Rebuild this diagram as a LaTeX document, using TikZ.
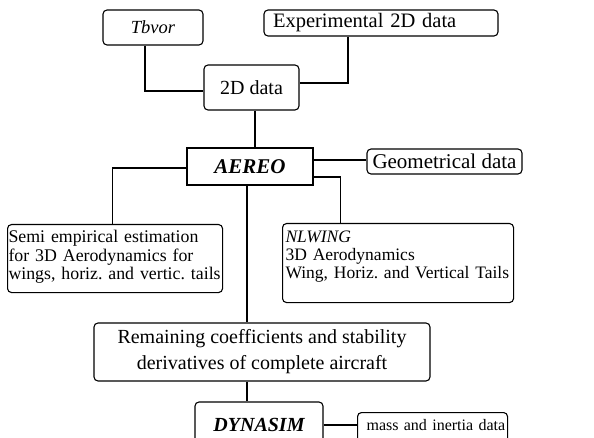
\documentclass[tikz,border=0pt]{standalone}
\usepackage{fontspec}
\setmainfont{Liberation Serif}
\frenchspacing
\usetikzlibrary{calc}
\begin{document}
\begin{tikzpicture}[x=1pt,y=-1pt,
  box/.style={draw, rounded corners=4pt, line width=1.1pt, inner sep=0pt},
  sqbox/.style={draw, line width=1.8pt, inner sep=0pt},
  link/.style={line width=1.1pt}]
\useasboundingbox (0,0) rectangle (594,438);
\clip (0,0) rectangle (594,438);
% boxes
\node[box, minimum width=100, minimum height=35, font=\fontsize{18.5}{21}\selectfont\itshape] (tb) at (153,27.5)
  {Tbvor};
\node[box, minimum height=26, inner xsep=9, text width=216, align=left, font=\fontsize{20.5}{23}\selectfont] (ex) at (381,23)
  {Experimental 2D data};
\node[box, minimum width=95, minimum height=45, font=\fontsize{20}{23}\selectfont] (d2) at (251.5,87.5)
  {2D data};
\node[sqbox, minimum width=126, minimum height=37, font=\fontsize{21}{24}\selectfont\bfseries\itshape] (ae) at (250,166.5)
  {AEREO};
\node[box, minimum width=155, minimum height=25, font=\fontsize{21}{24}\selectfont] (ge) at (444.5,161.5)
  {Geometrical data};
\node[box, anchor=north west, inner xsep=1, text width=213, align=left,
      text height=18, text depth=50, font=\fontsize{17.8}{18.5}\selectfont] (se) at (7,224)
  {Semi empirical estimation\\for 3D Aerodynamics for\\wings, horiz. and vertic. tails};
\node[box, anchor=north west, inner xsep=3, text width=225, align=left,
      text height=19, text depth=60, font=\fontsize{17.5}{18}\selectfont] (nl) at (282,223)
  {\textit{NLWING}\\3D Aerodynamics\\Wing, Horiz. and Vertical Tails};
\node[box, minimum width=336, minimum height=58, align=center, font=\fontsize{20}{26}\selectfont] (re) at (262,352)
  {Remaining coefficients and stability\\derivatives of complete aircraft};
\node[box, minimum width=128, minimum height=46, font=\fontsize{20}{23}\selectfont\bfseries\itshape] (dy) at (259,425)
  {DYNASIM};
\node[box, anchor=north west, inner xsep=0, text width=150, align=left,
      text height=18, text depth=18, font=\fontsize{16}{19}\selectfont] (ma) at (357,412)
  {\hspace*{9pt}\mbox{mass and inertia data}};
% connectors
\draw[link] ($(tb.south)+(-8,0)$) |- ($(d2.west)+(0,3.5)$);
\draw[link] ($(ex.south)+(-33,0)$) |- ($(d2.east)+(0,-4.5)$);
\draw[link] ($(d2.south)+(3.5,0)$) -- ($(ae.north)+(5,0)$);
\draw[link] ($(ae.east)+(0,-6.5)$) -- ($(ge.west)+(0,-1.5)$);
\draw[link] ($(ae.west)+(0,1.5)$) -| ($(se.north)+(-2.5,0)$);
\draw[link] ($(ae.east)+(0,10.5)$) -| ($(nl.north)+(-57.5,0)$);
\draw[link] ($(ae.south)+(-3,0)$) -- ($(re.north)+(-15,0)$);
\draw[link] ($(re.south)+(-15,0)$) -- ($(dy.north)+(-12,0)$);
\draw[link] (dy.east) -- (dy.east -| ma.west);
\end{tikzpicture}
\end{document}
